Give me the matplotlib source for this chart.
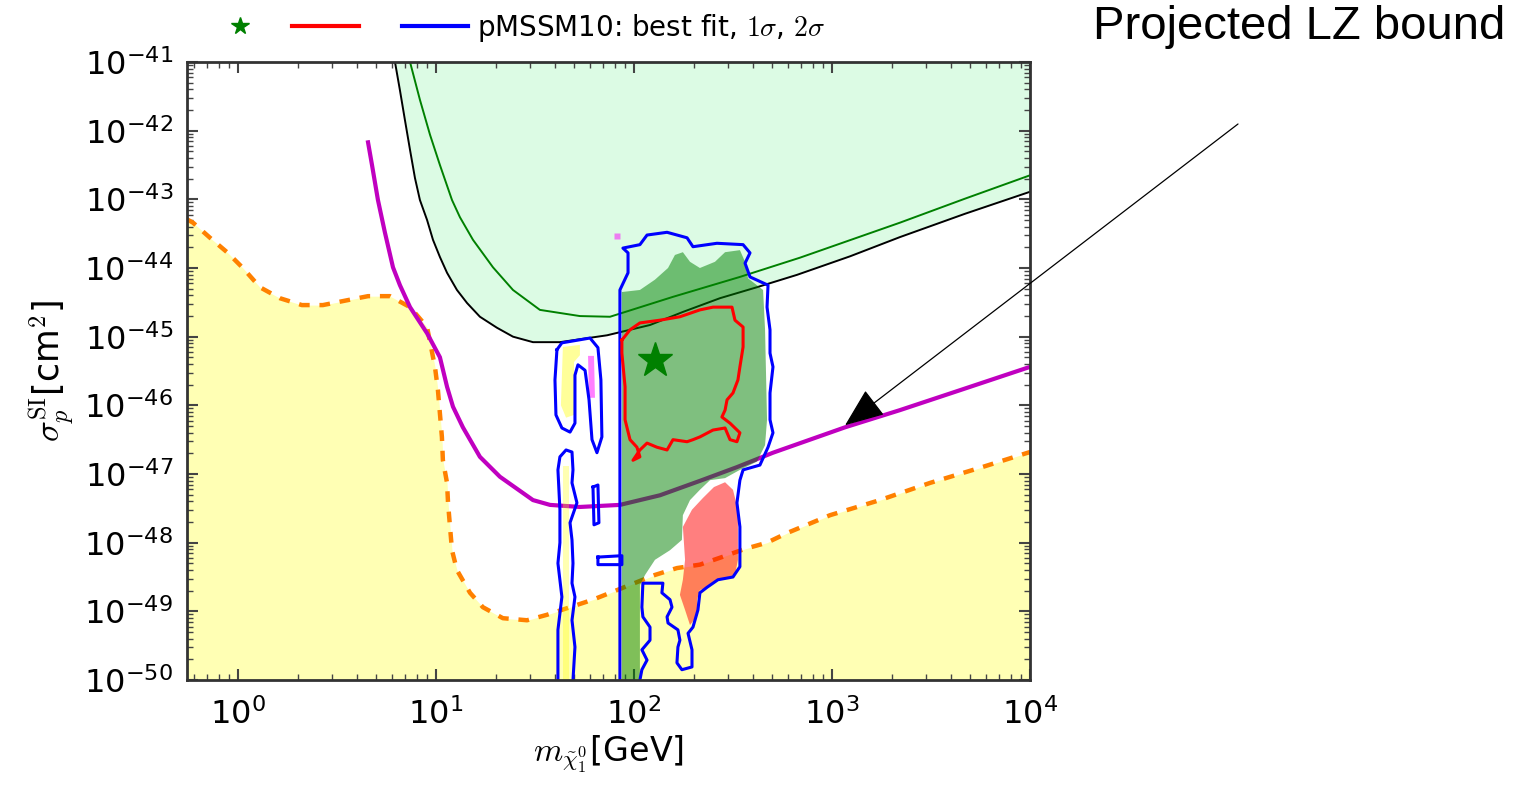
import numpy as np
import matplotlib
matplotlib.use('Agg')
import matplotlib.pyplot as plt
from matplotlib.lines import Line2D
from matplotlib.patches import Polygon
from matplotlib.ticker import LogLocator, NullFormatter

plt.rcParams['mathtext.fontset'] = 'cm'
plt.rcParams['font.family'] = ['DejaVu Sans']

# ---------------- data (log10 mass [GeV], log10 sigma [cm^2]) ----------------
x_ticks_exp = [0, 1, 2, 3, 4]
y_ticks_exp = [-50, -49, -48, -47, -46, -45, -44, -43, -42, -41]

floor_lm = [-0.258, -0.227, -0.141, -0.051, 0.025, 0.111, 0.212, 0.323, 0.429, 0.551, 0.657, 0.768,
            0.869, 0.955, 0.995, 1.010, 1.030, 1.035, 1.056, 1.061, 1.071, 1.081, 1.106, 1.172, 1.237,
            1.338, 1.460, 1.561, 1.793, 1.889, 2.106, 2.217, 2.333, 2.444, 2.561, 2.672, 2.773, 2.990,
            3.242, 3.495, 3.747, 4.0]
floor_ls = [-43.29, -43.34, -43.56, -43.78, -44.00, -44.28, -44.44, -44.54, -44.54, -44.47, -44.41, -44.41,
            -44.57, -44.86, -45.44, -45.78, -46.46, -46.80, -47.13, -47.42, -47.77, -48.11, -48.40, -48.73,
            -48.94, -49.10, -49.13, -49.05, -48.83, -48.72, -48.47, -48.37, -48.32, -48.21, -48.09, -48.00,
            -47.86, -47.60, -47.38, -47.13, -46.91, -46.68]

lz_lm = [0.657, 0.677, 0.707, 0.742, 0.783, 0.818, 0.869, 0.955, 1.020, 1.056, 1.086, 1.136, 1.222,
         1.323, 1.490, 1.576, 1.727, 1.929, 2.131, 2.333, 2.520, 2.702, 3.066, 3.343, 3.646, 4.0]
lz_ls = [-42.17, -42.50, -43.01, -43.48, -43.99, -44.25, -44.57, -44.95, -45.30, -45.73, -46.02, -46.32,
         -46.75, -47.04, -47.38, -47.45, -47.48, -47.45, -47.31, -47.10, -46.90, -46.69, -46.32, -46.07,
         -45.78, -45.44]

lim_lm = [0.793, 0.818, 0.843, 0.869, 0.894, 0.919, 0.955, 0.985, 1.020, 1.056, 1.106, 1.157, 1.222,
          1.308, 1.389, 1.490, 1.626, 1.864, 2.081, 2.247, 2.434, 2.621, 2.823, 3.091, 3.343, 3.672, 4.0]
lim_ls = [-41.00, -41.41, -41.84, -42.28, -42.69, -43.01, -43.30, -43.59, -43.84, -44.07, -44.32, -44.51,
          -44.71, -44.87, -45.00, -45.08, -45.08, -44.98, -44.83, -44.64, -44.44, -44.28, -44.10, -43.83,
          -43.55, -43.21, -42.89]

x1t_lm = [0.869, 0.919, 0.970, 1.020, 1.081, 1.121, 1.187, 1.288, 1.389, 1.525, 1.727, 1.879, 2.197,
          2.535, 2.838, 3.343, 3.672, 4.0]
x1t_ls = [-41.00, -41.55, -42.06, -42.50, -43.01, -43.26, -43.59, -43.99, -44.32, -44.61, -44.70, -44.71,
          -44.42, -44.13, -43.85, -43.34, -42.99, -42.65]

# 2 sigma contour, main island
s2_lm = [1.929, 1.929, 1.970, 1.970, 1.944, 2.030, 2.066, 2.167, 2.268, 2.298, 2.419, 2.551, 2.586, 2.561,
         2.586, 2.677, 2.672, 2.687, 2.687, 2.702, 2.687, 2.687, 2.702, 2.677, 2.636, 2.551, 2.535, 2.520,
         2.535, 2.535, 2.500, 2.424, 2.369, 2.333, 2.323, 2.298, 2.273, 2.293, 2.293, 2.242, 2.217, 2.222,
         2.232, 2.222, 2.172, 2.167, 2.192, 2.182, 2.141, 2.146, 2.045, 2.040, 2.045, 2.081, 2.081, 2.040,
         2.066, 2.040, 2.030]
s2_ls = [-50.00, -44.32, -44.07, -43.78, -43.71, -43.66, -43.52, -43.48, -43.56, -43.69, -43.64, -43.66,
         -43.78, -43.93, -44.13, -44.25, -44.57, -44.90, -45.24, -45.44, -45.82, -46.21, -46.40, -46.61,
         -46.87, -46.94, -47.09, -47.42, -47.77, -48.35, -48.50, -48.54, -48.65, -48.73, -48.98, -49.23,
         -49.32, -49.56, -49.81, -49.85, -49.75, -49.52, -49.42, -49.27, -49.17, -49.08, -48.94, -48.83,
         -48.73, -48.59, -48.59, -48.94, -49.08, -49.23, -49.42, -49.56, -49.71, -49.85, -50.00]

# 2 sigma contour, thin islands at lower mass
s2a_lm = [1.611, 1.636, 1.778, 1.818, 1.833, 1.838, 1.813, 1.788, 1.773, 1.753, 1.717, 1.702, 1.702,
          1.677, 1.636, 1.606, 1.601]
s2a_ls = [-45.19, -45.09, -45.02, -45.16, -45.63, -46.46, -46.69, -46.50, -45.92, -45.49, -45.41, -45.56,
          -46.26, -46.39, -46.33, -46.14, -45.63]
s2b_lm = [1.692, 1.702, 1.687, 1.702, 1.687, 1.692, 1.687, 1.677, 1.712, 1.687, 1.692, 1.687, 1.657,
          1.626, 1.616, 1.626, 1.626, 1.616, 1.636, 1.616, 1.616]
s2b_ls = [-50.00, -49.52, -49.13, -48.79, -48.59, -48.30, -47.96, -47.71, -47.42, -47.13, -46.94, -46.68,
          -46.65, -46.75, -46.94, -47.52, -48.00, -48.30, -48.79, -49.27, -50.00]
s2c_lm = [1.793, 1.818, 1.823, 1.798]
s2c_ls = [-47.19, -47.16, -47.71, -47.74]
s2d_lm = [1.818, 1.939, 1.939, 1.818]
s2d_ls = [-48.21, -48.19, -48.32, -48.32]

# 1 sigma contour
s1_lm = [1.939, 1.980, 2.030, 2.131, 2.232, 2.333, 2.399, 2.495, 2.510, 2.551, 2.551, 2.535, 2.525, 2.500,
         2.470, 2.460, 2.444, 2.485, 2.535, 2.520, 2.485, 2.460, 2.399, 2.333, 2.298, 2.268, 2.197, 2.167,
         2.116, 2.066, 2.030, 1.995, 2.030, 2.015, 1.980, 1.955, 1.955, 1.939]
s1_ls = [-45.05, -44.90, -44.80, -44.76, -44.71, -44.61, -44.57, -44.57, -44.76, -44.86, -45.15, -45.44,
         -45.63, -45.82, -45.92, -46.07, -46.17, -46.26, -46.40, -46.53, -46.50, -46.33, -46.36, -46.46,
         -46.50, -46.53, -46.50, -46.65, -46.61, -46.55, -46.65, -46.80, -46.75, -46.61, -46.50, -46.21,
         -45.73, -45.24]

# coloured regions (points grouped by colour)
green_lm = [1.939, 1.939, 2.030, 2.106, 2.172, 2.207, 2.247, 2.283, 2.333, 2.409, 2.460, 2.535, 2.561,
            2.576, 2.652, 2.662, 2.672, 2.662, 2.621, 2.535, 2.460, 2.384, 2.333, 2.283, 2.247, 2.242,
            2.182, 2.106, 2.056, 2.030, 2.030]
green_ls = [-50.00, -44.35, -44.32, -44.17, -44.00, -43.81, -43.77, -43.91, -44.00, -43.91, -43.77, -43.74,
            -43.91, -44.15, -44.32, -44.90, -46.21, -46.58, -46.82, -46.94, -47.06, -47.09, -47.23, -47.38,
            -47.60, -47.96, -48.11, -48.25, -48.47, -48.62, -50.00]
red_lm = [2.247, 2.293, 2.348, 2.404, 2.460, 2.500, 2.525, 2.525, 2.510, 2.434, 2.369, 2.333, 2.318, 2.323,
          2.283, 2.258, 2.232, 2.247, 2.258]
red_ls = [-47.77, -47.52, -47.35, -47.19, -47.12, -47.23, -47.52, -48.25, -48.47, -48.54, -48.65, -48.69,
          -48.83, -49.05, -49.20, -48.98, -48.76, -48.54, -48.25]
yellowA_lm = [1.641, 1.727, 1.727, 1.697, 1.697, 1.657, 1.631]
yellowA_ls = [-45.15, -45.12, -45.27, -45.37, -46.14, -46.18, -46.00]
yellowB_lm = [1.641, 1.672, 1.672, 1.641]
yellowB_ls = [-46.89, -46.89, -50.00, -50.00]
pink_lm = [1.768, 1.798, 1.803, 1.773]
pink_ls = [-45.28, -45.28, -45.89, -45.89]
pink_dot = (1.914, -43.53)

best_fit = (2.106, -45.34)
arrow_tip = (3.066, -46.29)

legend_label = r'pMSSM10: best fit, $1\sigma$, $2\sigma$'
xlabel = r'$m_{\tilde{\chi}^0_1}$[GeV]'
ylabel = r'$\sigma_p^{\rm SI}$[cm$^2$]'
annot = 'Projected LZ bound'

# ---------------- plotting ----------------
def P(lm, ls):
    return 10.0 ** np.asarray(lm), 10.0 ** np.asarray(ls)

fig = plt.figure(figsize=(15.28, 7.93), dpi=100)
ax = fig.add_axes([187 / 1528, 113 / 793, 843 / 1528, 618 / 793])
ax.set_xscale('log')
ax.set_yscale('log')

fm, fs = P(floor_lm, floor_ls)
ax.fill_between(fm, 1e-50, fs, color='#ffffb4', lw=0, zorder=1)
ax.plot(fm, fs, color='#ff8000', lw=3.2, ls=(0, (2.4, 2.2)), zorder=2)

lm_, ls_ = P(lim_lm, lim_ls)
ax.fill_between(lm_, ls_, 1e-41, color='#dcfbe4', lw=0, zorder=1)

zm, zs = P(lz_lm, lz_ls)
ax.plot(zm, zs, color='#c000c0', lw=3.0, zorder=2)
ax.plot(lm_, ls_, color='black', lw=1.4, zorder=2)
xm, xs = P(x1t_lm, x1t_ls)
ax.plot(xm, xs, color='green', lw=1.4, zorder=2)

def region(lm, ls, color, alpha):
    m, s = P(lm, ls)
    ax.add_patch(Polygon(np.column_stack([m, s]), closed=True, facecolor=color,
                         edgecolor='none', alpha=alpha, zorder=3))

region(green_lm, green_ls, 'green', 0.5)
region(red_lm, red_ls, 'red', 0.5)
region(yellowA_lm, yellowA_ls, 'yellow', 0.4)
region(yellowB_lm, yellowB_ls, 'yellow', 0.3)
region(pink_lm, pink_ls, 'magenta', 0.5)
pm, ps = P([pink_dot[0]], [pink_dot[1]])
ax.plot(pm, ps, 's', color='magenta', alpha=0.5, ms=4, mec='none', zorder=3)

m, s = P(s2_lm, s2_ls)
ax.plot(m, s, color='blue', lw=2.2, zorder=4)
for a, b in [(s2a_lm, s2a_ls), (s2c_lm, s2c_ls), (s2d_lm, s2d_ls)]:
    m, s = P(list(a) + [a[0]], list(b) + [b[0]])
    ax.plot(m, s, color='blue', lw=2.2, zorder=4)
m, s = P(s2b_lm, s2b_ls)
ax.plot(m, s, color='blue', lw=2.2, zorder=4)
m, s = P(s1_lm + [s1_lm[0]], s1_ls + [s1_ls[0]])
ax.plot(m, s, color='red', lw=2.2, zorder=4)

bm, bs = P([best_fit[0]], [best_fit[1]])
ax.plot(bm, bs, '*', color='green', ms=26, mec='green', zorder=5)

# axes styling
ax.set_xticks([10.0 ** e for e in x_ticks_exp])
ax.set_yticks([10.0 ** e for e in y_ticks_exp])
ax.xaxis.set_minor_locator(LogLocator(base=10, subs=np.arange(2, 10), numticks=100))
ax.yaxis.set_minor_locator(LogLocator(base=10, subs=np.arange(2, 10), numticks=100))
ax.xaxis.set_minor_formatter(NullFormatter())
ax.yaxis.set_minor_formatter(NullFormatter())
ax.set_xlim(0.553, 1e4)
ax.set_ylim(1e-50, 1e-41)
ax.tick_params(which='both', direction='in', top=True, right=True, color='#444444')
ax.tick_params(which='major', length=8, width=1.5, labelsize=23)
ax.tick_params(which='minor', length=4, width=1.0)
ax.tick_params(axis='y', which='major', pad=10)
ax.tick_params(axis='x', which='major', pad=13)
for sp in ax.spines.values():
    sp.set_linewidth(2.0)
    sp.set_color('#333333')
    sp.set_zorder(6)

ax.set_xlabel(xlabel, fontsize=24, labelpad=2)
ax.set_ylabel(ylabel, fontsize=25, labelpad=6)

# legend: best-fit star, then the 1 and 2 sigma contour lines with the label
leg1 = fig.legend([Line2D([], [], marker='*', color='green', ls='none', ms=13)], [''],
                  loc='center', bbox_to_anchor=(240 / 1528, 1 - 28 / 793), frameon=False,
                  fontsize=20, handlelength=1.0, handletextpad=0, borderpad=0, borderaxespad=0)
fig.legend([Line2D([], [], color='red', lw=3), Line2D([], [], color='blue', lw=3)],
           ['', legend_label], loc='center left', ncol=2,
           bbox_to_anchor=(292 / 1528, 1 - 28 / 793), frameon=False, fontsize=20,
           handlelength=2.4, handletextpad=0.3, columnspacing=1.25, borderpad=0, borderaxespad=0)

# annotation
fig.text(1505 / 1528, 1 - 27 / 793, annot, ha='right', va='center', fontsize=34,
         family='Liberation Sans')
tm, ts = 10 ** arrow_tip[0], 10 ** arrow_tip[1]
ax.annotate('', xy=(tm, ts), xycoords='data', xytext=(1238 / 1528, 1 - 124 / 793),
            textcoords='figure fraction',
            arrowprops=dict(arrowstyle='-|>,head_length=1.25,head_width=0.5', mutation_scale=20,
                            color='black', lw=0.9, shrinkA=0, shrinkB=0),
            zorder=7, annotation_clip=False)

fig.savefig('out.png', dpi=100)
